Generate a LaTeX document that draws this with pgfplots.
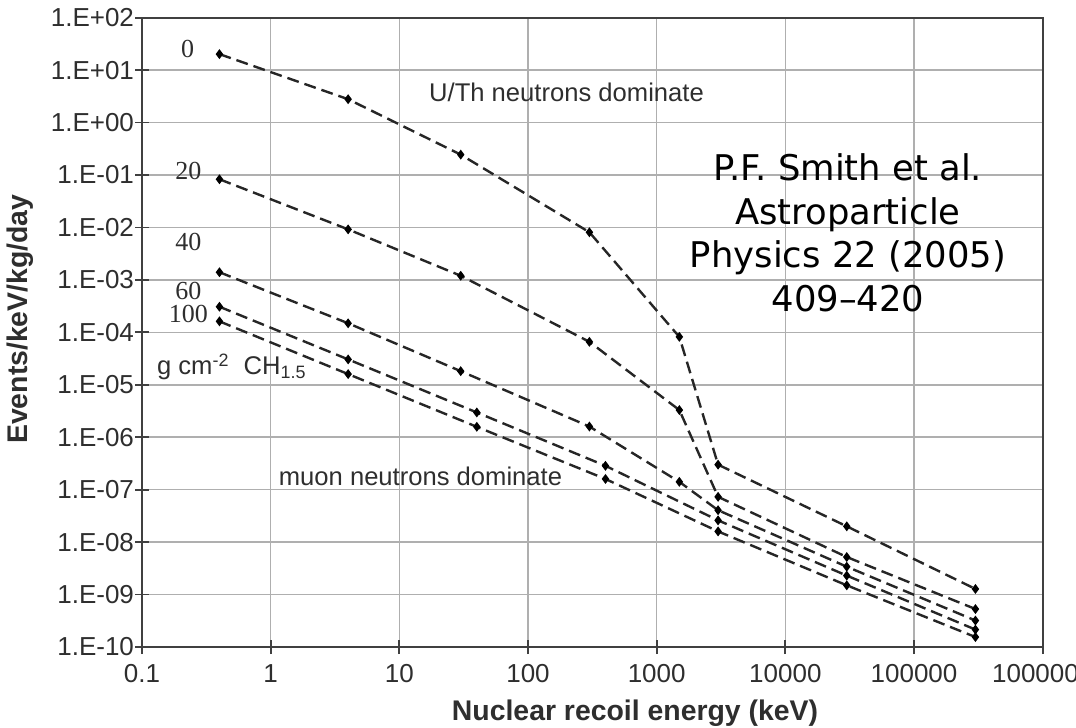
\documentclass[border=0pt]{standalone}
\usepackage{fontspec}
\setmainfont{Liberation Sans}
\newfontfamily\timesf{Liberation Serif}
\newfontfamily\citef{DejaVu Sans}
\usepackage{pgfplots}
\pgfplotsset{compat=1.18}
\definecolor{gridc}{HTML}{AFAFAF}
\definecolor{axc}{HTML}{404040}
\definecolor{linec}{HTML}{262626}
\definecolor{txtc}{HTML}{2E2E2E}
\begin{document}
\begin{tikzpicture}
\begin{axis}[
  at={(0,0)}, anchor=south west,
  scale only axis, width=450.35pt, height=314.65pt,
  xmode=log, ymode=log,
  xmin=0.1, xmax=1000000, ymin=1e-10, ymax=100,
  xtick={0.1,1,10,100,1000,10000,100000,1000000},
  xticklabels={0.1,1,10,100,1000,10000,100000,1000000},
  ytick={1e-10,1e-9,1e-8,1e-7,1e-6,1e-5,1e-4,1e-3,1e-2,1e-1,1,10,100},
  yticklabels={1.E-10,1.E-09,1.E-08,1.E-07,1.E-06,1.E-05,1.E-04,1.E-03,1.E-02,1.E-01,1.E+00,1.E+01,1.E+02},
  xminorticks=false, yminorticks=false,
  grid=major, major grid style={gridc, line width=0.8pt},
  axis line style={axc, line width=1pt},
  tick align=center, major tick length=7pt, tick style={axc, line width=0.9pt},
  xtick pos=bottom, ytick pos=left,
  ticklabel style={font=\fontsize{13}{15}\selectfont, text=txtc},
  yticklabel style={xshift=3pt},
  xticklabel style={yshift=-1.5pt, text height=9.4pt, text depth=0pt},
  xlabel={Nuclear recoil energy (keV)}, ylabel={Events/keV/kg/day},
  label style={font=\bfseries\fontsize{14.2}{17}\selectfont, text=txtc},
  xlabel style={at={(axis description cs:0.5474,-0.116)}, anchor=base},
  ylabel style={at={(axis description cs:-0.1354,0.521)}, anchor=center},
  ser/.style={linec, line width=1.2pt, dash pattern=on 6pt off 3pt, mark=diamond*, mark size=2pt, mark options={solid, fill=black, draw=black, line width=0.6pt}},
]
% 0 g/cm2
\addplot[ser] coordinates {(0.4,20.2) (4,2.79) (30,0.245) (300,0.0081) (1500,8.2e-5) (3000,3.0e-7) (30000,2.0e-8) (300000,1.28e-9)};
% 20
\addplot[ser] coordinates {(0.4,0.083) (4,0.0092) (30,0.0012) (300,6.6e-5) (1500,3.3e-6) (3000,7.3e-8) (30000,5.2e-9) (300000,5.3e-10)};
% 40
\addplot[ser] coordinates {(0.4,1.4e-3) (4,1.49e-4) (30,1.82e-5) (300,1.6e-6) (1500,1.41e-7) (3000,4.06e-8) (30000,3.4e-9) (300000,3.2e-10)};
% 60
\addplot[ser] coordinates {(0.4,3.08e-4) (4,3.05e-5) (40,2.97e-6) (400,2.85e-7) (3000,2.6e-8) (30000,2.3e-9) (300000,2.15e-10)};
% 100
\addplot[ser] coordinates {(0.4,1.62e-4) (4,1.6e-5) (40,1.58e-6) (400,1.6e-7) (3000,1.6e-8) (30000,1.5e-9) (300000,1.55e-10)};

\node[font=\timesf\fontsize{13}{15}\selectfont, text=txtc] at (rel axis cs:0.0507,0.9498) {0};
\node[font=\timesf\fontsize{13}{15}\selectfont, text=txtc] at (rel axis cs:0.0514,0.7569) {20};
\node[font=\timesf\fontsize{13}{15}\selectfont, text=txtc] at (rel axis cs:0.0514,0.6441) {40};
\node[font=\timesf\fontsize{13}{15}\selectfont, text=txtc, inner sep=1pt] at (rel axis cs:0.0514,0.5662) {60};
\node[font=\timesf\fontsize{13}{15}\selectfont, text=txtc, inner sep=1pt] at (rel axis cs:0.0514,0.5292) {100};
\node[font=\fontsize{12.8}{15}\selectfont, text=txtc] at (rel axis cs:0.4713,0.8819) {U/Th neutrons dominate};
\node[font=\fontsize{12.8}{15}\selectfont, text=txtc] at (rel axis cs:0.3092,0.2706) {muon neutrons dominate};
\node[font=\fontsize{12.8}{15}\selectfont, text=txtc, anchor=west, inner sep=0pt] at (rel axis cs:0.0163,0.445) {g cm\textsuperscript{-2}\ \ CH\textsubscript{1.5}};
\node[font=\citef\fontsize{17.7}{21.75}\selectfont, align=center, text=black] at (rel axis cs:0.7838,0.6579) {P.F. Smith et al.\\Astroparticle\\Physics 22 (2005)\\409–420};
\end{axis}
\pgfresetboundingbox
\path[use as bounding box] (-71pt,-40.5pt) rectangle (467pt,323.5pt);
\end{tikzpicture}
\end{document}
